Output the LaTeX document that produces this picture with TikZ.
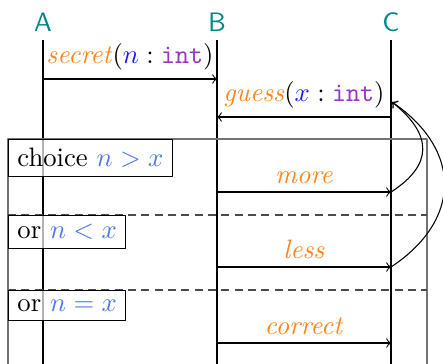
\documentclass[tikz,border=0pt]{standalone}
\usepackage{xcolor}

\definecolor{headcol}{rgb}{0.0,0.53,0.53}
\definecolor{msgcol}{rgb}{1.0,0.52,0.1}
\definecolor{argcol}{rgb}{0.1,0.1,1.0}
\definecolor{typecol}{rgb}{0.6,0.2,0.8}
\definecolor{guardcol}{rgb}{0.3,0.47,0.92}

\newcommand{\msgname}[1]{\textcolor{msgcol}{\textit{#1}}}
\newcommand{\msgsig}[3]{\msgname{#1}$(\textcolor{argcol}{#2} : \textcolor{typecol}{\mathtt{#3}})$}

\begin{document}
\begin{tikzpicture}[x=0.375pt,y=-0.375pt,>=to,line join=bevel,
  head/.style={text=headcol, font=\sffamily},
  life/.style={draw=black},
  label/.style={above, inner sep=3pt},
  frame/.style={draw=black!55},
  sep/.style={draw=black!70, dash pattern=on 3pt off 2pt},
  guard/.style={draw=black, fill=white, fill opacity=0.7, text opacity=1, anchor=north west}]
  \useasboundingbox (0,0) rectangle (443,363);
%%
  % Lifelines: A, B, C
  \node[head] (A) at (43,22) {A};
  \node[head] (B) at (217,22) {B};
  \node[head] (C) at (391,22) {C};
  \coordinate (A-top) at (43,40);  \coordinate (A-bot) at (43,380);
  \coordinate (B-top) at (217,40); \coordinate (B-bot) at (217,380);
  \coordinate (C-top) at (391,40); \coordinate (C-bot) at (391,380);
  \draw[life] (A-top) -- (A-bot);
  \draw[life] (B-top) -- (B-bot);
  \draw[life] (C-top) -- (C-bot);
  % Frame: choice / or / or
  \draw[frame] (8,139) rectangle (427,380);
  \coordinate (or1-l) at (8,215);  \coordinate (or1-r) at (427,215);
  \coordinate (or2-l) at (8,290);  \coordinate (or2-r) at (427,290);
  \draw[sep] (or1-l) -- (or1-r);
  \draw[sep] (or2-l) -- (or2-r);
  \node[guard] (choice) at (8,139) {choice \textcolor{guardcol}{$n > x$}};
  \node[guard] (or1) at (or1-l) {or \textcolor{guardcol}{$n < x$}};
  \node[guard] (or2) at (or2-l) {or \textcolor{guardcol}{$n = x$}};
  % Edge: A -> B
  \coordinate (A-secret) at (43,79);
  \coordinate (B-secret) at (217,79);
  \draw[->] (A-secret) -- node[label] (secret) {\msgsig{secret}{n}{int}} (B-secret);
  % Edge: C -> B
  \coordinate (C-guess) at (391,117);
  \coordinate (B-guess) at (217,117);
  \draw[->] (C-guess) -- node[label] (guess) {\msgsig{guess}{x}{int}} (B-guess);
  % Edges: B -> C
  \coordinate (B-more) at (217,192);    \coordinate (C-more) at (391,192);
  \coordinate (B-less) at (217,267);    \coordinate (C-less) at (391,267);
  \coordinate (B-correct) at (217,343); \coordinate (C-correct) at (391,343);
  \draw[->] (B-more) -- node[label] (more) {\msgname{more}} (C-more);
  \draw[->] (B-less) -- node[label] (less) {\msgname{less}} (C-less);
  \draw[->] (B-correct) -- node[label] (correct) {\msgname{correct}} (C-correct);
  % Loops back to the guess
  \coordinate (C-loop) at (392,102);
  \draw[->] (C-more) .. controls (433,165) and (433,135) .. (C-loop);
  \draw[->] (C-less) .. controls (462,220) and (462,150) .. (C-loop);
%
\end{tikzpicture}
\end{document}
